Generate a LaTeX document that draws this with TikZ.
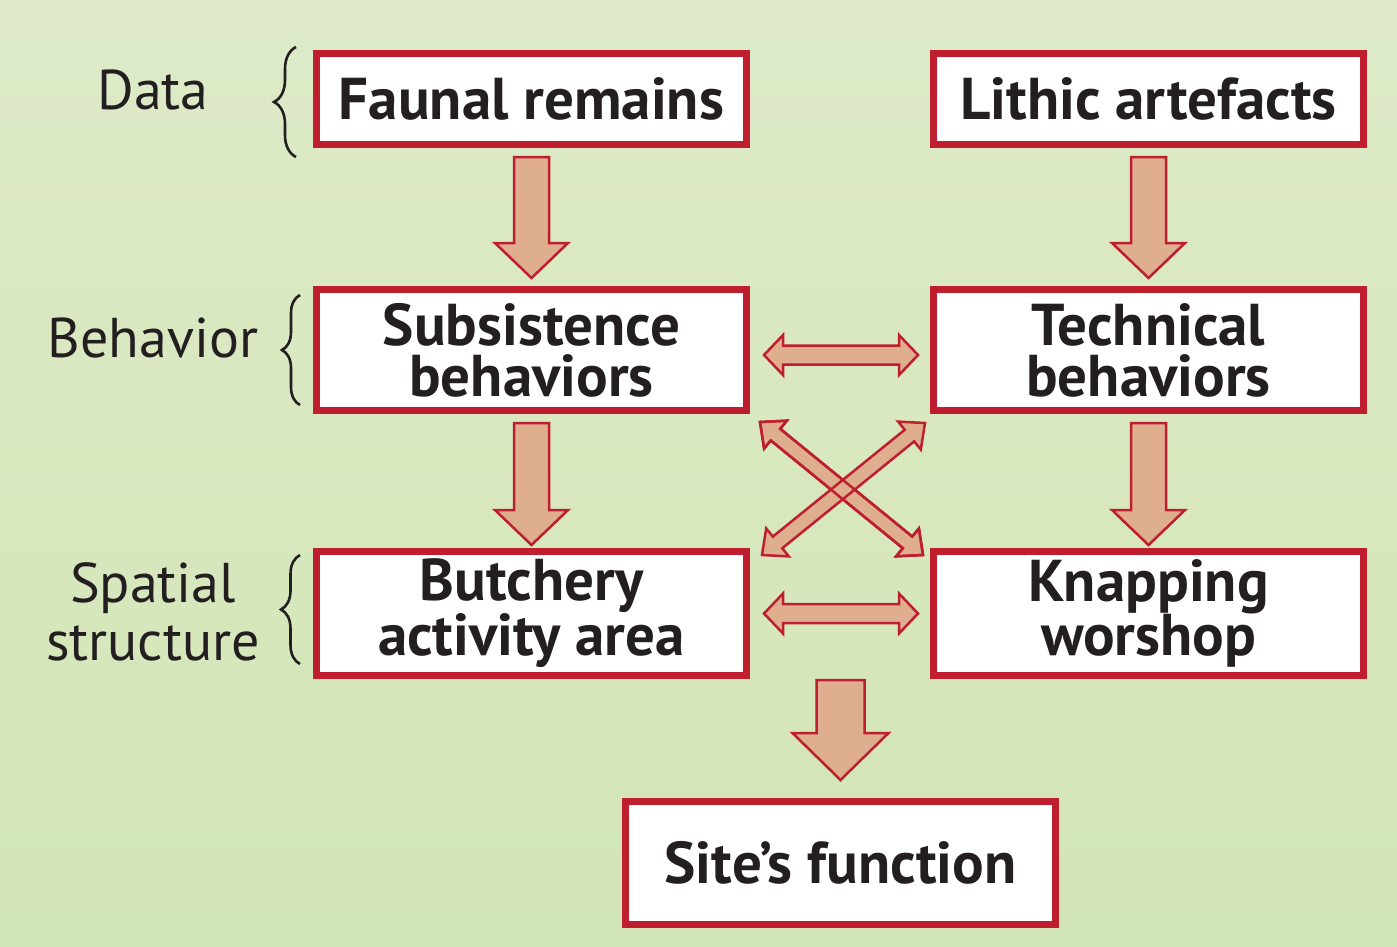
\documentclass[tikz,border=0pt]{standalone}
\usepackage{fontspec}
\setmainfont{PT Sans}
\usetikzlibrary{positioning,calc,decorations.pathreplacing}
\definecolor{bgtop}{HTML}{DEEAC8}
\definecolor{bgbot}{HTML}{D2E5B6}
\definecolor{boxred}{HTML}{BE1E2D}
\definecolor{arrowfill}{HTML}{DFAE8F}
\definecolor{inkgray}{HTML}{231F20}
\tikzset{
    stage/.style={draw=boxred, fill=white, line width=7pt, minimum width=430pt,
      inner sep=0pt, text=inkgray, align=center,
      font=\bfseries\fontsize{59}{51}\selectfont},
    level/.style={text=inkgray, align=center, font=\fontsize{56}{58}\selectfont},
    fatarrow/.style={draw=boxred, fill=arrowfill, line width=2.5pt, line join=miter},
    bracket/.style={decorate, decoration={brace, amplitude=20pt},
      line width=2.6pt, draw=inkgray}
}
% #2 start, #3 tip, #4 half shaft, #5 half head, #6 head length
\newcommand\blockarrow[6][]{%
  \coordinate (ba-h) at ($(#3)!#6!(#2)$);
  \filldraw[fatarrow,#1] ($(#2)!#4!90:(#3)$) -- ($(ba-h)!#4!90:(#3)$)
    -- ($(ba-h)!#5!90:(#3)$) -- (#3) -- ($(ba-h)!#5!-90:(#3)$)
    -- ($(ba-h)!#4!-90:(#3)$) -- ($(#2)!#4!-90:(#3)$) -- cycle;
}
% same with a head at both ends
\newcommand\blockdarrow[6][]{%
  \coordinate (ba-a) at ($(#2)!#6!(#3)$);
  \coordinate (ba-b) at ($(#3)!#6!(#2)$);
  \filldraw[fatarrow,#1] (#2) -- ($(ba-a)!#5!90:(#3)$) -- ($(ba-a)!#4!90:(#3)$)
    -- ($(ba-b)!#4!90:(#3)$) -- ($(ba-b)!#5!90:(#3)$) -- (#3)
    -- ($(ba-b)!#5!-90:(#3)$) -- ($(ba-b)!#4!-90:(#3)$)
    -- ($(ba-a)!#4!-90:(#3)$) -- ($(ba-a)!#5!-90:(#3)$) -- cycle;
}

\begin{document}
\begin{tikzpicture}[x=1pt, y=-1pt]
    \shade[top color=bgtop, bottom color=bgbot] (0,0) rectangle (1397,946);
    \useasboundingbox (0,0) rectangle (1397,946);

    % boxes
    \node[stage, minimum height=91pt] (faunal) at (531.5,99) {Faunal remains};
    \node[stage, minimum height=91pt, right=180pt of faunal] (lithic) {Lithic artefacts};
    \node[stage, minimum height=121pt, below=138pt of faunal] (subsist) {Subsistence\\behaviors};
    \node[stage, minimum height=121pt, below=138pt of lithic] (technical) {Technical\\behaviors};
    \node[stage, minimum height=124pt, below=134pt of subsist] (butchery) {Butchery\\activity area};
    \node[stage, minimum height=124pt, below=134pt of technical] (knapping) {Knapping\\worshop};
    \node[stage, minimum height=123pt] (site) at (840.5,863) {Site’s function};

    % levels
    \node[level] (data) at (153,90) {Data};
    \node[level] (behavior) at (153,338) {Behavior};
    \node[level] (spatial) at (153,612) {Spatial\\structure};
    \draw[bracket, decoration={amplitude=22pt}] (296,157) -- (296,47);
    \draw[bracket, decoration={amplitude=18pt}] (300,405) -- (300,295);
    \draw[bracket, decoration={amplitude=19pt}] (300,664) -- (300,555);

    % arrow ends
    \coordinate (fa-s) at ($(faunal.south)+(0,9)$);
    \coordinate (su-n) at ($(subsist.north)+(0,-8)$);
    \coordinate (li-s) at ($(lithic.south)+(0,9)$);
    \coordinate (te-n) at ($(technical.north)+(0,-8)$);
    \coordinate (su-s) at ($(subsist.south)+(0,9)$);
    \coordinate (bu-n) at ($(butchery.north)+(0,-3)$);
    \coordinate (te-s) at ($(technical.south)+(0,9)$);
    \coordinate (kn-n) at ($(knapping.north)+(0,-3)$);
    \coordinate (bu-s) at ($(butchery.south -| site.north)+(0,1)$);
    \coordinate (si-n) at ($(site.north)+(0,-18)$);
    \coordinate (su-e) at ($(subsist.east)+(14,5)$);
    \coordinate (te-w) at ($(technical.west)+(-12,5)$);
    \coordinate (bu-e) at ($(butchery.east)+(14,0)$);
    \coordinate (kn-w) at ($(knapping.west)+(-12,0)$);
    \coordinate (su-se) at ($(subsist.south east)+(10,8)$);
    \coordinate (kn-nw) at ($(knapping.north west)+(-7,7)$);
    \coordinate (te-sw) at ($(technical.south west)+(-5,9)$);
    \coordinate (bu-ne) at ($(butchery.north east)+(12,7)$);

    % arrows
    \blockarrow{fa-s}{su-n}{17.5pt}{36.5pt}{35pt}
    \blockarrow{li-s}{te-n}{17.5pt}{36.5pt}{35pt}
    \blockarrow{su-s}{bu-n}{17.5pt}{36.5pt}{35pt}
    \blockarrow{te-s}{kn-n}{17.5pt}{36.5pt}{35pt}
    \blockarrow{bu-s}{si-n}{24pt}{48pt}{47pt}
    \blockdarrow{su-e}{te-w}{9.5pt}{20pt}{19pt}
    \blockdarrow{bu-e}{kn-w}{9.5pt}{20pt}{19pt}
    \blockdarrow{su-se}{kn-nw}{7.5pt}{18pt}{20pt}
    \blockdarrow{te-sw}{bu-ne}{7.5pt}{18pt}{20pt}
    \blockdarrow[fill=none]{su-se}{kn-nw}{7.5pt}{18pt}{20pt}
\end{tikzpicture}
\end{document}
